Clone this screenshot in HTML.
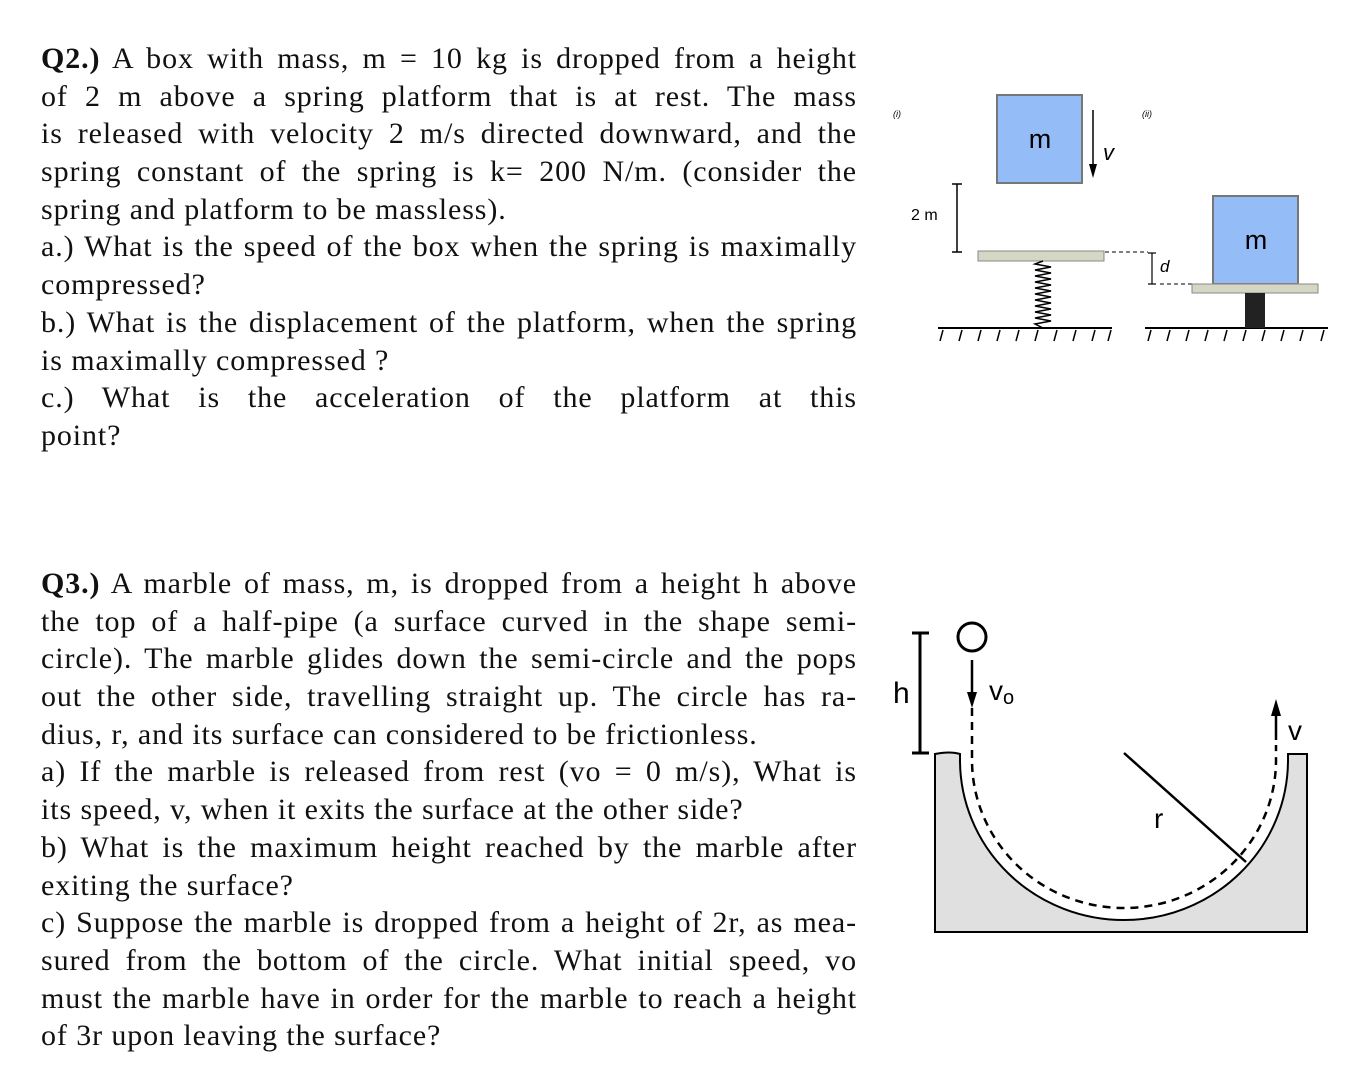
<!DOCTYPE html>
<html><head><meta charset="utf-8"><style>
body{margin:0;background:#fff;width:1362px;height:1085px;position:relative;overflow:hidden}
.t{position:absolute;left:41px;width:816px;font-family:"Liberation Serif",serif;font-size:30px;letter-spacing:0.9px;line-height:37.7px;color:#111}
.t div{white-space:nowrap;height:37.7px}
.j{text-align:justify;text-align-last:justify}
svg{position:absolute;left:0;top:0}
</style></head><body>
<div class="t" style="top:40px">
<div class="j"><b>Q2.)</b> A box with mass, m = 10 kg is dropped from a height</div>
<div class="j">of 2 m above a spring platform that is at rest. The mass</div>
<div class="j">is released with velocity 2 m/s directed downward, and the</div>
<div class="j">spring constant of the spring is k= 200 N/m. (consider the</div>
<div>spring and platform to be massless).</div>
<div class="j">a.) What is the speed of the box when the spring is maximally</div>
<div>compressed?</div>
<div class="j">b.) What is the displacement of the platform, when the spring</div>
<div>is maximally compressed ?</div>
<div class="j">c.) What is the acceleration of the platform at this</div>
<div>point?</div>
</div>
<div class="t" style="top:565px">
<div class="j"><b>Q3.)</b> A marble of mass, m, is dropped from a height h above</div>
<div class="j">the top of a half-pipe (a surface curved in the shape semi-</div>
<div class="j">circle). The marble glides down the semi-circle and the pops</div>
<div class="j">out the other side, travelling straight up. The circle has ra-</div>
<div>dius, r, and its surface can considered to be frictionless.</div>
<div class="j">a) If the marble is released from rest (vo = 0 m/s), What is</div>
<div>its speed, v, when it exits the surface at the other side?</div>
<div class="j">b) What is the maximum height reached by the marble after</div>
<div>exiting the surface?</div>
<div class="j">c) Suppose the marble is dropped from a height of 2r, as mea-</div>
<div class="j">sured from the bottom of the circle. What initial speed, vo</div>
<div class="j">must the marble have in order for the marble to reach a height</div>
<div>of 3r upon leaving the surface?</div>
</div>
<svg width="1362" height="1085" font-family="Liberation Sans, sans-serif">
<text x="893" y="117" font-size="9" font-style="italic">(i)</text>
<text x="1142" y="117" font-size="9" font-style="italic">(ii)</text>
<rect x="997" y="95" width="85" height="88" fill="#94bdf7" stroke="#777" stroke-width="2"/>
<text x="1040" y="148" font-size="27" text-anchor="middle">m</text>
<line x1="1093" y1="110" x2="1093" y2="168" stroke="#000" stroke-width="1.5"/>
<polygon points="1089,164 1097,164 1093,178" fill="#000"/>
<text x="1103" y="160" font-size="22" font-style="italic">v</text>
<g stroke="#000" stroke-width="1.5"><line x1="957" y1="184" x2="957" y2="252"/><line x1="952" y1="184" x2="962" y2="184"/><line x1="952" y1="252" x2="962" y2="252"/></g>
<text x="911" y="220" font-size="16">2 m</text>
<rect x="978" y="251" width="126" height="10" fill="#d6d6c4" stroke="#888"/>
<polyline points="1043,261 1035,264 1051,267 1035,270 1051,273 1035,276 1051,279 1035,282 1051,285 1035,288 1051,291 1035,294 1051,297 1035,300 1051,303 1035,306 1051,309 1035,312 1051,315 1035,318 1051,321 1035,324 1043,328" fill="none" stroke="#000" stroke-width="1.5"/>
<line x1="938" y1="328" x2="1112" y2="328" stroke="#000" stroke-width="2"/>
<g stroke="#000" stroke-width="1.5">
<path d="M943 330l-3 11M962 330l-3 11M981 330l-3 11M1000 330l-3 11M1019 330l-3 11M1038 330l-3 11M1057 330l-3 11M1076 330l-3 11M1095 330l-3 11M1111 330l-3 11"/>
<path d="M1151 330l-3 11M1170 330l-3 11M1189 330l-3 11M1208 330l-3 11M1227 330l-3 11M1246 330l-3 11M1265 330l-3 11M1284 330l-3 11M1303 330l-3 11M1324 330l-3 11"/>
</g>
<line x1="1145" y1="328" x2="1328" y2="328" stroke="#000" stroke-width="2"/>
<line x1="1105" y1="252" x2="1148" y2="252" stroke="#000" stroke-dasharray="4,3"/>
<line x1="1160" y1="284" x2="1192" y2="284" stroke="#000" stroke-dasharray="4,3"/>
<g stroke="#000" stroke-width="1.2"><line x1="1152" y1="253" x2="1152" y2="284"/><line x1="1148" y1="253" x2="1156" y2="253"/><line x1="1148" y1="284" x2="1156" y2="284"/></g>
<text x="1160" y="272" font-size="17" font-style="italic">d</text>
<rect x="1213" y="196" width="85" height="88" fill="#94bdf7" stroke="#777" stroke-width="2"/>
<text x="1256" y="249" font-size="27" text-anchor="middle">m</text>
<rect x="1192" y="284" width="126" height="9" fill="#d6d6c4" stroke="#888"/>
<rect x="1245" y="293" width="20" height="35" fill="#222"/>
<g stroke="#000" stroke-width="3"><line x1="920" y1="633" x2="920" y2="753"/><line x1="912" y1="633" x2="929" y2="633"/><line x1="912" y1="753" x2="929" y2="753"/></g>
<text x="893" y="703" font-size="30">h</text>
<circle cx="972" cy="637" r="14" fill="none" stroke="#000" stroke-width="3"/>
<line x1="972" y1="660" x2="972" y2="695" stroke="#000" stroke-width="2.5"/>
<polygon points="967,692 977,692 972,708" fill="#000"/>
<text x="989" y="700" font-size="28">v</text>
<text x="1003" y="704" font-size="20">o</text>
<path d="M935 932 L935 754 Q950 751 960 754 L960 760 A164 160 0 0 0 1288 760 L1288 754 L1307 754 L1307 932 Z" fill="#e0e0e0" stroke="#000" stroke-width="2"/>
<path d="M972 708 L972 760 A152 148 0 0 0 1276 760 L1276 745" fill="none" stroke="#000" stroke-width="2.5" stroke-dasharray="8,6"/>
<line x1="1276" y1="740" x2="1276" y2="712" stroke="#000" stroke-width="2.5"/>
<polygon points="1271,716 1281,716 1276,699" fill="#000"/>
<text x="1288" y="740" font-size="28">v</text>
<line x1="1124" y1="753" x2="1246" y2="862" stroke="#000" stroke-width="2.5"/>
<text x="1154" y="828" font-size="28">r</text>
</svg>
</body></html>
